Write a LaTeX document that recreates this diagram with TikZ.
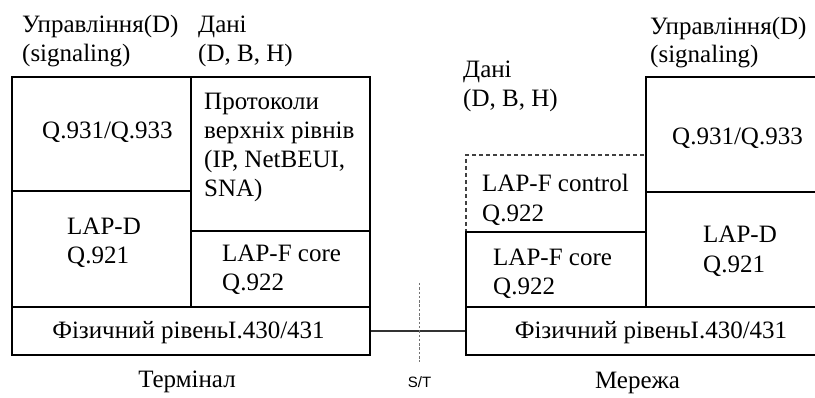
\documentclass[tikz,border=0pt]{standalone}
\usepackage{fontspec}
\setmainfont{Liberation Serif}
\newfontfamily\serffont{Liberation Serif}
\newfontfamily\stfont{Liberation Sans}
\usetikzlibrary{fit}
\begin{document}
\begin{tikzpicture}[x=1pt,y=-1pt,
  box/.style={draw, line width=1.2pt, inner sep=0pt, rectangle},
  dbox/.style={draw, line width=1.1pt, inner sep=0pt, rectangle, dash pattern=on 4pt off 3pt, draw=black!75},
  lbl/.style={anchor=base west, inner sep=0pt, font=\serffont\fontsize{25}{29}\selectfont},
  clbl/.style={anchor=base, inner sep=0pt, font=\serffont\fontsize{25}{29}\selectfont},
  link/.style={line width=1.2pt, draw=black!80},
  stline/.style={line width=1.2pt, draw=black!55, dash pattern=on 2.5pt off 1.8pt}]
\useasboundingbox (0,0) rectangle (815,398);
\clip (0,0) rectangle (815,398);
% ---------- Terminal ----------
\node[box, fit={(12,77) (191,191)}] (tq931) {};
\node[box, fit={(12,191) (191,307)}] (tlapd) {};
\node[box, fit={(191,77) (370,231)}] (tproto) {};
\node[box, fit={(191,231) (370,307)}] (tlapf) {};
\node[box, fit={(12,307) (370,355)}] (tphys) {};
% ---------- Network ----------
\node[dbox, fit={(466,155) (646,232)}] (nctrl) {};
\node[box, fit={(466,232) (646,307)}] (nlapf) {};
\node[box, fit={(646,77) (835,192)}] (nq931) {};
\node[box, fit={(646,192) (835,307)}] (nlapd) {};
\node[box, fit={(466,307) (835,355)}] (nphys) {};
% ---------- link and S/T ----------
\draw[link] (tphys.east) -- (nphys.west);
\coordinate (sttop) at (419.5,283);
\coordinate (stbot) at (419.5,362);
\draw[stline] (sttop) -- (stbot);
\node[anchor=base, inner sep=0pt, font=\stfont\fontsize{15}{17}\selectfont] (st) at (419.5,388) {S/T};
% ---------- Terminal texts ----------
\node[lbl] (tctl1) at (22,33) {Управління(D)};
\node[lbl] (tctl2) at (22,62) {(signaling)};
\node[lbl] (tdat1) at (198,33) {Дані};
\node[lbl] (tdat2) at (198,62) {(D, B, H)};
\node[lbl] (tq931t) at (42,139) {Q.931/Q.933};
\node[lbl] (tpr1) at (204,110) {Протоколи};
\node[lbl] (tpr2) at (204,139) {верхніх рівнів};
\node[lbl] (tpr3) at (204,168) {(IP, NetBEUI,};
\node[lbl] (tpr4) at (204,197) {SNA)};
\node[lbl] (tlapd1) at (67,235) {LAP-D};
\node[lbl] (tlapd2) at (67,264) {Q.921};
\node[lbl] (tlapf1) at (222,262) {LAP-F core};
\node[lbl] (tlapf2) at (222,291) {Q.922};
\node[clbl] (tphyst) at (188.5,339) {Фізичний рівеньI.430/431};
\node[clbl] (term) at (187,388) {Термінал};
% ---------- Network texts ----------
\node[lbl] (nctl1) at (650,35) {Управління(D)};
\node[lbl] (nctl2) at (650,63) {(signaling)};
\node[lbl] (ndat1) at (463,78) {Дані};
\node[lbl] (ndat2) at (463,107) {(D, B, H)};
\node[lbl] (nq931t) at (672,145) {Q.931/Q.933};
\node[lbl] (nctrl1) at (482,192) {LAP-F control};
\node[lbl] (nctrl2) at (482,222) {Q.922};
\node[lbl] (nlapf1) at (493,266) {LAP-F core};
\node[lbl] (nlapf2) at (493,295) {Q.922};
\node[lbl] (nlapd1) at (703,243) {LAP-D};
\node[lbl] (nlapd2) at (703,273) {Q.921};
\node[clbl] (nphyst) at (651,339) {Фізичний рівеньI.430/431};
\node[clbl] (net) at (637.5,389) {Мережа};
\end{tikzpicture}
\end{document}
